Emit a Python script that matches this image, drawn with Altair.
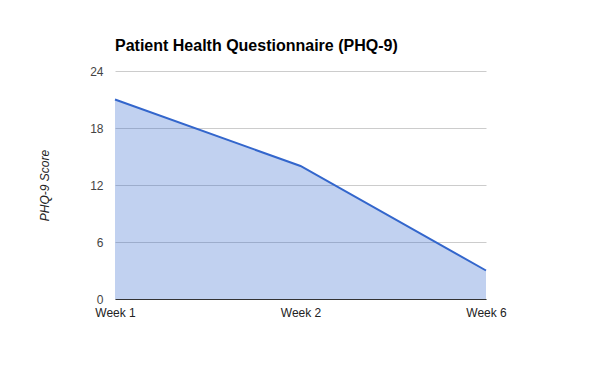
import altair as alt
import pandas as pd

weeks = ["Week 1", "Week 2", "Week 6"]
scores = [21, 14, 3]

df = pd.DataFrame({"week": weeks, "score": scores})

base = alt.Chart(df).encode(
    x=alt.X("week:N", sort=weeks, scale=alt.Scale(type="point", padding=0),
            axis=alt.Axis(title=None, labelAngle=0, ticks=False, domain=True,
                          domainColor="#333333", labelColor="#222222",
                          labelFontSize=12, labelPadding=8, grid=False,
                          labelFont="Liberation Sans")),
    y=alt.Y("score:Q", scale=alt.Scale(domain=[0, 24], nice=False),
            axis=alt.Axis(title="PHQ-9 Score", titleFontStyle="italic",
                          titleFontWeight="normal", titleFontSize=12,
                          titleColor="#222222", titlePadding=38,
                          titleFont="Liberation Sans",
                          values=[0, 6, 12, 18, 24], domain=False, ticks=False,
                          labelColor="#444444", labelFontSize=12, labelPadding=12,
                          labelFont="Liberation Sans",
                          gridColor="#cccccc")),
)

area = base.mark_area(color="#3366cc", opacity=0.3)
line = base.mark_line(color="#3366cc", strokeWidth=2)

chart = (area + line).properties(
    width=371, height=228,
    background="white",
    title=alt.TitleParams("Patient Health Questionnaire (PHQ-9)", anchor="start",
                          frame="group",
                          fontSize=16, fontWeight="bold", font="Liberation Sans",
                          color="#000000", offset=11),
    autosize=alt.AutoSizeParams(type="none"),
    padding={"left": 107, "top": 63, "right": 106, "bottom": 64},
).configure_view(strokeWidth=0, stroke="transparent")

chart.save("out.html", embed_options={"renderer": "svg", "actions": False})
